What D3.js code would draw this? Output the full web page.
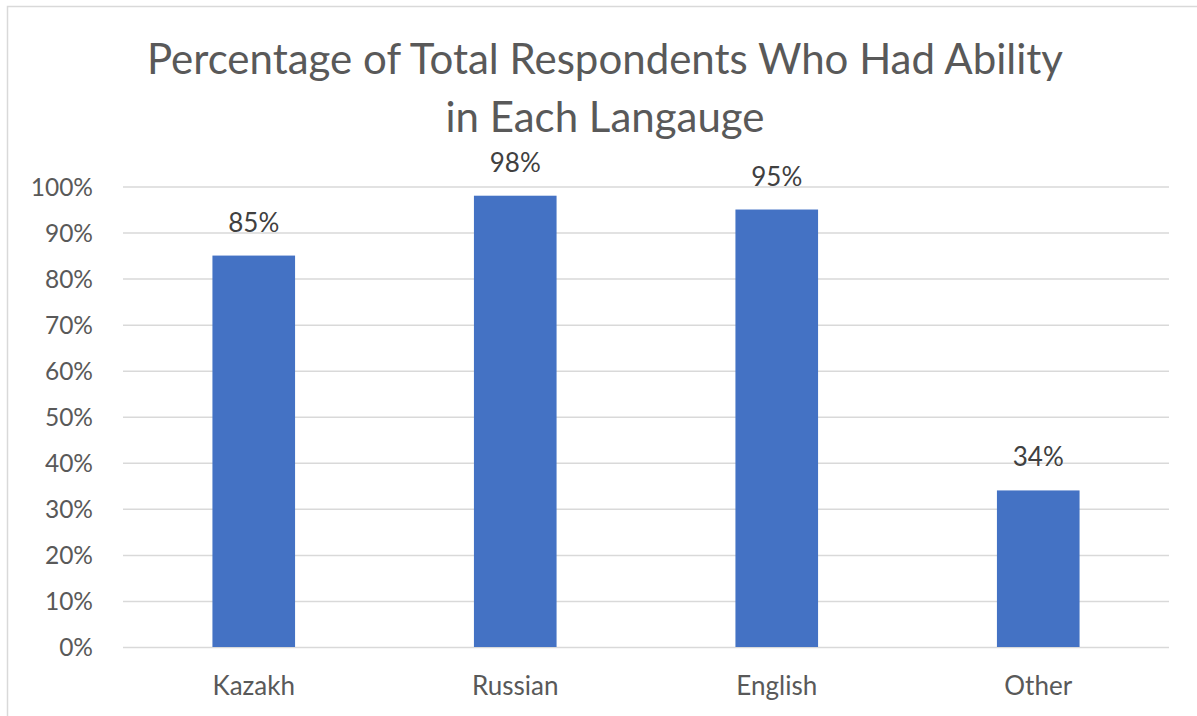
<!DOCTYPE html>
<html>
<head>
<meta charset="utf-8">
<script src="https://cdn.jsdelivr.net/npm/d3@7"></script>
<style>
  html, body { margin: 0; padding: 0; background: #ffffff; }
  svg { display: block; }
  text { font-family: Lato, "Open Sans", sans-serif; }
</style>
</head>
<body>
<svg id="chart" width="1197" height="716"></svg>
<script>
// Language ability among respondents
const categories = ["Kazakh", "Russian", "English", "Other"];
const values = [0.85, 0.98, 0.95, 0.34];
const yTicks = [0, 0.1, 0.2, 0.3, 0.4, 0.5, 0.6, 0.7, 0.8, 0.9, 1.0];
const titleLines = ["Percentage of Total Respondents Who Had Ability", "in Each Langauge"];

const svg = d3.select("#chart");
const W = 1197, H = 716;

// chart frame
svg.append("rect")
  .attr("x", 7.5).attr("y", 6.5)
  .attr("width", W).attr("height", H)
  .attr("fill", "#ffffff")
  .attr("stroke", "#d9d9d9").attr("stroke-width", 1.5);

const plot = { left: 123, right: 1169, top: 186.5, bottom: 647 };

const x = d3.scaleBand()
  .domain(categories)
  .range([plot.left, plot.right])
  .paddingInner(0.684)
  .paddingOuter(0.342);

const y = d3.scaleLinear()
  .domain([0, 1])
  .range([plot.bottom, plot.top]);

// title
svg.append("g")
  .selectAll("text")
  .data(titleLines)
  .join("text")
  .attr("x", 605)
  .attr("y", (d, i) => 74 + i * 58)
  .attr("text-anchor", "middle")
  .attr("fill", "#595959")
  .attr("font-size", 42)
  .text(d => d);

// gridlines and y labels
const yAxis = d3.axisLeft(y)
  .tickValues(yTicks)
  .tickFormat(d3.format(".0%"))
  .tickSize(-(plot.right - plot.left))
  .tickPadding(30);

const gy = svg.append("g")
  .attr("transform", `translate(${plot.left},0)`)
  .call(yAxis);
gy.select(".domain").remove();
gy.selectAll(".tick line")
  .attr("stroke", "#d9d9d9")
  .attr("stroke-width", 1.5);
gy.selectAll(".tick text")
  .attr("fill", "#595959")
  .attr("font-size", 24.5)
  .attr("font-family", "Lato, 'Open Sans', sans-serif")
  .attr("dy", "0.36em");

// bars
svg.append("g")
  .selectAll("rect")
  .data(categories)
  .join("rect")
  .attr("x", d => x(d))
  .attr("width", x.bandwidth())
  .attr("y", (d, i) => y(values[i]))
  .attr("height", (d, i) => y(0) - y(values[i]))
  .attr("fill", "#4472c4");

// value labels
svg.append("g")
  .selectAll("text")
  .data(categories)
  .join("text")
  .attr("x", d => x(d) + x.bandwidth() / 2)
  .attr("y", (d, i) => y(values[i]) - 24)
  .attr("text-anchor", "middle")
  .attr("fill", "#404040")
  .attr("font-size", 26)
  .text((d, i) => d3.format(".0%")(values[i]));

// category axis
const xAxis = d3.axisBottom(x).tickSize(0).tickPadding(0);
const gx = svg.append("g")
  .attr("transform", `translate(0,${plot.bottom})`)
  .call(xAxis);
gx.select(".domain").remove();
gx.selectAll(".tick text")
  .attr("fill", "#595959")
  .attr("font-size", 26)
  .attr("font-family", "Lato, 'Open Sans', sans-serif")
  .attr("dy", null)
  .attr("y", 48);
</script>
</body>
</html>
